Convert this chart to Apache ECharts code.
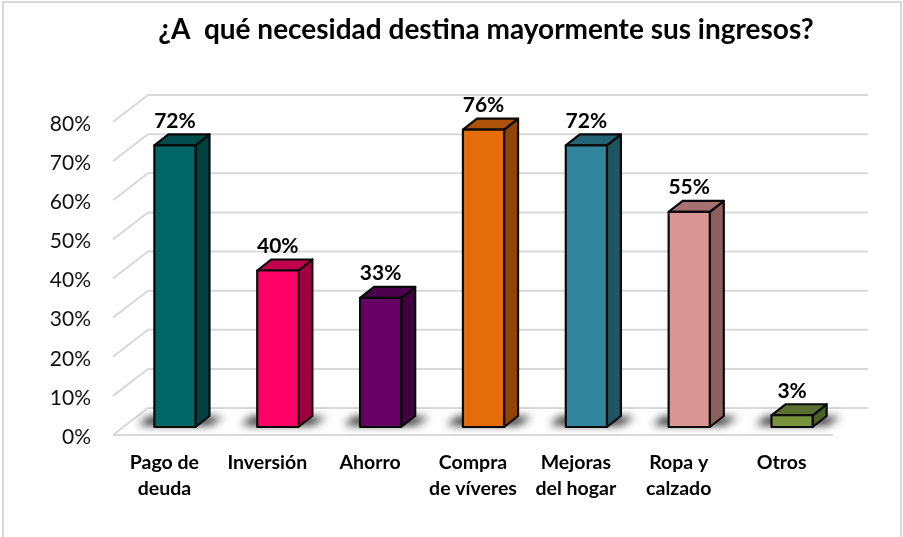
<!DOCTYPE html>
<html>
<head>
<meta charset="utf-8">
<style>
  html, body { margin: 0; padding: 0; background: #fff; }
  #chart { width: 903px; height: 537px; }
</style>
<script src="https://cdn.jsdelivr.net/npm/echarts@6/dist/echarts.min.js"></script>
</head>
<body>
<div id="chart"></div>
<script>
var categories = ["Pago de\ndeuda", "Inversión", "Ahorro", "Compra\nde víveres", "Mejoras\ndel hogar", "Ropa y\ncalzado", "Otros"];
var values = [0.72, 0.40, 0.33, 0.76, 0.72, 0.55, 0.03];
var yTicks = [0, 0.1, 0.2, 0.3, 0.4, 0.5, 0.6, 0.7, 0.8];
var barColors = ["#006666", "#ff0066", "#660066", "#e46c0a", "#31859c", "#d99694", "#77933c"];
var topColors = ["#004d4d", "#c0004d", "#4d004d", "#ad5208", "#256476", "#a57271", "#5a702e"];
var sideColors = ["#004040", "#a10040", "#400040", "#904406", "#1f5462", "#8f5f5e", "#4b5e26"];

// depth of the fake 3d box
var wallDx = 35, wallDy = -27;
var barDx = 14, barDy = -11;
var planeDx = 10.5, planeDy = -8;
var edge = "#0a0a0a";
// floor shadow is drawn off canvas so only its blur lands on the chart
var shadowShift = 2000;

function renderWall(params, api) {
  var rect = params.coordSys;
  var tick = api.value(0);
  var y = api.coord([0, tick])[1];
  var left = rect.x, right = rect.x + rect.width;
  var points = [[left, y], [left + wallDx, y + wallDy], [right + wallDx, y + wallDy]];
  var children = [{
    type: "polyline",
    shape: { points: points },
    style: { fill: null, stroke: "#d9d9d9", lineWidth: 2 }
  }];
  if (tick === 0) {
    // floor front edge
    children.push({
      type: "line",
      shape: { x1: left, y1: y, x2: right, y2: y },
      style: { stroke: "#d9d9d9", lineWidth: 2 }
    });
  }
  return { type: "group", children: children };
}

function renderBar(params, api) {
  var i = api.value(0);
  var v = api.value(1);
  var band = api.size([1, 0])[0];
  var w = band * 0.4;
  var c = api.coord([i, v]);
  var base = api.coord([i, 0])[1] + planeDy;
  var x0 = c[0] + planeDx - w / 2;
  var x1 = x0 + w;
  var top = c[1] + planeDy;
  var line = { stroke: edge, lineWidth: 2.2, lineJoin: "round" };

  return {
    type: "group",
    children: [
      {
        type: "polygon",
        shape: {
          points: [
            [x0 - 16 - shadowShift, base - 2],
            [x1 + 14 - shadowShift, base - 2],
            [x1 + barDx + 14 - shadowShift, base + barDy + 1],
            [x0 - 6 - shadowShift, base + barDy + 1]
          ]
        },
        style: {
          fill: "#000",
          shadowColor: "rgba(30,30,30,1)",
          shadowBlur: 8,
          shadowOffsetX: shadowShift
        }
      },
      {
        type: "polygon",
        shape: { points: [[x1, top], [x1 + barDx, top + barDy], [x1 + barDx, base + barDy], [x1, base]] },
        style: Object.assign({ fill: sideColors[i] }, line)
      },
      {
        type: "polygon",
        shape: { points: [[x0, top], [x0 + barDx, top + barDy], [x1 + barDx, top + barDy], [x1, top]] },
        style: Object.assign({ fill: topColors[i] }, line)
      },
      {
        type: "rect",
        shape: { x: x0, y: top, width: w, height: base - top },
        style: Object.assign({ fill: barColors[i] }, line)
      },
      {
        type: "text",
        x: x0 + w / 2,
        y: top - 24.5,
        style: {
          text: Math.round(v * 100) + "%",
          fill: "#000",
          font: "bold 21px Lato",
          align: "center",
          verticalAlign: "middle"
        }
      }
    ]
  };
}

var chart = echarts.init(document.getElementById("chart"), null, { renderer: "canvas" });
chart.setOption({
  animation: false,
  backgroundColor: "#fff",
  title: {
    text: "¿A  qué necesidad destina mayormente sus ingresos?",
    left: 481,
    top: 11,
    textAlign: "center",
    textStyle: { fontFamily: "Lato", fontSize: 28, fontWeight: "bold", color: "#000" }
  },
  graphic: [{
    type: "rect",
    silent: true,
    z: -1,
    shape: { x: 3, y: 2, width: 898, height: 560 },
    style: { fill: null, stroke: "#d9d9d9", lineWidth: 2 }
  }],
  grid: { left: 113, right: 70, top: 122, bottom: 102 },
  xAxis: {
    type: "category",
    data: categories,
    axisLine: { show: false },
    axisTick: { show: false },
    axisLabel: {
      interval: 0,
      margin: 15,
      lineHeight: 26,
      fontFamily: "Lato",
      fontSize: 19.5,
      fontWeight: "bold",
      color: "#000"
    }
  },
  yAxis: {
    type: "value",
    min: 0,
    max: 0.8,
    interval: 0.1,
    axisLine: { show: false },
    axisTick: { show: false },
    splitLine: { show: false },
    axisLabel: {
      margin: 22,
      color: "#111",
      formatter: function (val) {
        return "{tick|" + Math.round(val * 100) + "%}";
      },
      rich: {
        tick: { fontFamily: "Lato", fontSize: 21, color: "#111", padding: [4, 0, 0, 0] }
      }
    }
  },
  series: [
    {
      type: "custom",
      coordinateSystem: "cartesian2d",
      renderItem: renderWall,
      clip: false,
      silent: true,
      encode: { y: 0 },
      data: yTicks.map(function (t) { return [t]; }),
      z: 1
    },
    {
      type: "custom",
      coordinateSystem: "cartesian2d",
      renderItem: renderBar,
      clip: false,
      silent: true,
      encode: { x: 0, y: 1 },
      data: values.map(function (v, i) { return [i, v]; }),
      z: 2
    }
  ]
});
</script>
</body>
</html>
